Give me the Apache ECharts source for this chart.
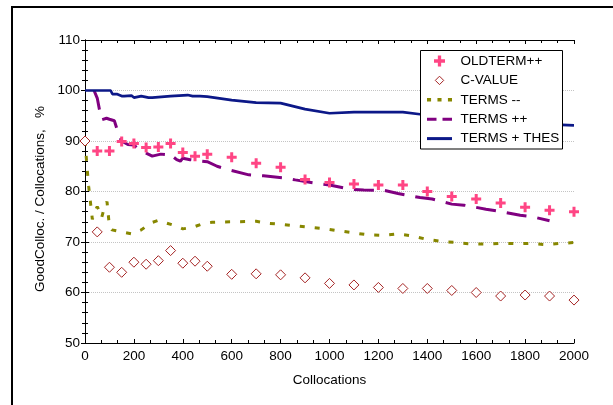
<!DOCTYPE html>
<html><head><meta charset="utf-8">
<script src="https://cdn.jsdelivr.net/npm/echarts@6/dist/echarts.min.js"></script>
<style>html,body{margin:0;padding:0;background:#fff}#c{width:613px;height:405px}</style>
</head><body><div id="c"></div>
<script>
// ---- data ----
const seriesNames = ['OLDTERM++', 'C-VALUE', 'TERMS --', 'TERMS ++', 'TERMS + THES'];

const oldtermX = [50,100,150,200,250,300,350,400,450,500,600,700,800,900,1000,1100,1200,1300,1400,1500,1600,1700,1800,1900,2000];
const oldtermY = [88.0,88.0,89.9,89.5,88.7,88.8,89.5,87.7,87.0,87.4,86.8,85.6,84.8,82.4,81.8,81.5,81.3,81.3,80.0,79.0,78.5,77.7,76.9,76.3,76.0];

const cvalueX = [0,50,100,150,200,250,300,350,400,450,500,600,700,800,900,1000,1100,1200,1300,1400,1500,1600,1700,1800,1900,2000];
const cvalueY = [90.0,72.0,65.0,64.0,66.0,65.6,66.3,68.3,65.8,66.2,65.2,63.6,63.7,63.5,62.9,61.8,61.5,61.0,60.8,60.8,60.4,60.0,59.3,59.5,59.3,58.5];

const termsMinusX = [0,8,15,22,30,40,50,60,68,80,90,100,110,150,190,230,270,300,330,370,400,440,480,520,600,700,750,800,900,1000,1040,1100,1160,1220,1280,1340,1400,1460,1520,1580,1640,1700,1760,1820,1880,1940,2000];
const termsMinusY = [90,85,81,78,74.5,76,77,76,74.8,77,78,73,72.4,72,71.6,72.4,73.8,74.3,73.8,73.2,72.6,72.9,73.6,73.9,74.0,74.1,73.7,73.5,73.0,72.5,72.2,71.8,71.4,71.3,71.6,71.2,70.5,70.1,69.9,69.6,69.6,69.7,69.7,69.7,69.5,69.7,69.9];

const termsPlusX = [37,50,60,68,75,88,100,120,140,150,175,200,220,250,275,310,330,350,360,375,390,400,430,460,500,540,580,670,730,810,860,950,1000,1090,1140,1225,1280,1370,1420,1500,1550,1640,1690,1780,1830,1900];
const termsPlusY = [100,98.5,96,94.2,93.9,94.5,94.3,94,91,90,89.3,89.2,88.3,87.6,87,87.4,87.3,86.6,86.9,86.3,86.0,86.6,86.3,86.1,85.9,85.0,84.4,83.3,83.1,82.7,82.3,81.6,81.3,80.4,80.3,80.2,79.6,78.8,78.5,77.5,77.3,76.5,76.1,75.3,75.0,74.2];

const thesX = [0,105,112,130,150,160,190,200,210,230,260,275,300,350,420,440,470,500,600,700,800,900,1000,1100,1300,1370,1450,1550,1650,1750,1850,1950,2000];
const thesY = [100,100,99.3,99.3,98.9,98.9,99.0,98.6,98.7,98.9,98.6,98.6,98.7,98.9,99.1,98.9,98.9,98.8,98.1,97.6,97.5,96.3,95.5,95.7,95.7,95.3,94.8,94.3,93.9,93.6,93.4,93.2,93.1];

const xMin = 0, xMax = 2000, xStep = 200;
const yMin = 50, yMax = 110, yStep = 10;
const xTitle = 'Collocations';
const yTitle = 'GoodColloc. / Collocations,   %';

// ---- build ----
const zip = (xs, ys) => xs.map((x, i) => [x, ys[i]]);
const FONT = 'Liberation Sans, Arial, sans-serif';
const PLUS = 'path://M3.5,0H6.5V3.5H10V6.5H6.5V10H3.5V6.5H0V3.5H3.5Z';
const ICON_DIAMOND = 'path://M0,0M11,11M5.5,1.3L9.7,5.5L5.5,9.7L1.3,5.5Z';
const ICON_DOT = 'path://M0,0H3.5V3H0Z M9,0H12.5V3H9Z M18,0H21.5V3H18Z';
const ICON_DASH = 'path://M0,0H9.5V3H0Z M15.5,0H25V3H15.5Z';
const ICON_SOLID = 'path://M0,0H25V3H0Z';

const chart = echarts.init(document.getElementById('c'), null, {renderer: 'canvas'});

const axisCommon = {
  axisLine: {show: true, lineStyle: {color: '#000', width: 1}},
  axisTick: {show: true, inside: true, length: 4, lineStyle: {color: '#000'}},
  minorTick: {show: true, length: 3, lineStyle: {color: '#000'}}
};
const plain = v => String(v);

const C_DOT = '#878700', C_DASH = '#800080', C_SOLID = '#0c1888', C_DIA = '#a52424', C_PLUS = '#ff4584';

chart.setOption({
  animation: false,
  backgroundColor: '#fff',
  grid: {left: 85, top: 40, width: 489, height: 303, outerBoundsMode: 'none'},
  graphic: [
    {type: 'rect', z: 0, shape: {x: 12, y: 7, width: 700, height: 500},
     style: {fill: 'none', stroke: '#000', lineWidth: 2}},
    {type: 'rect', z: 100, shape: {x: 420.5, y: 50.5, width: 142, height: 98.5},
     style: {fill: '#fff', stroke: '#000', lineWidth: 1}},
    {type: 'text', z: 100, x: 40, y: 199, rotation: Math.PI / 2,
     style: {text: yTitle, fontFamily: FONT, fontSize: 13.5, fill: '#000', align: 'center', verticalAlign: 'middle'}}
  ],
  legend: {
    orient: 'vertical', left: 427, top: 54, padding: 0, z: 120,
    itemWidth: 25, itemHeight: 11, itemGap: 5.4,
    textStyle: {fontFamily: FONT, fontSize: 13.5, color: '#000', lineHeight: 14, padding: [0, 0, 0, 3.5]},
    data: [
      {name: seriesNames[0]},
      {name: seriesNames[1], icon: ICON_DIAMOND, itemStyle: {borderWidth: 1}},
      {name: seriesNames[2], icon: ICON_DOT, itemStyle: {color: C_DOT, borderWidth: 0}},
      {name: seriesNames[3], icon: ICON_DASH, itemStyle: {color: C_DASH, borderWidth: 0}},
      {name: seriesNames[4], icon: ICON_SOLID, itemStyle: {color: C_SOLID, borderWidth: 0}}
    ]
  },
  xAxis: [
    Object.assign({type: 'value', min: xMin, max: xMax, interval: xStep,
      name: xTitle, nameLocation: 'middle', nameGap: 30,
      nameTextStyle: {fontFamily: FONT, fontSize: 13.5, color: '#000'},
      axisLabel: {fontFamily: FONT, fontSize: 13.5, color: '#000', margin: 6, formatter: plain},
      splitLine: {show: false}}, axisCommon, {minorTick: Object.assign({}, axisCommon.minorTick, {splitNumber: 3})}),
    Object.assign({type: 'value', position: 'top', min: xMin, max: xMax, interval: xStep,
      axisLabel: {show: false}, splitLine: {show: false}}, axisCommon, {minorTick: Object.assign({}, axisCommon.minorTick, {splitNumber: 3})})
  ],
  yAxis: [
    Object.assign({type: 'value', min: yMin, max: yMax, interval: yStep,
      axisLabel: {fontFamily: FONT, fontSize: 13.5, color: '#000', margin: 5, formatter: plain},
      splitLine: {show: true, lineStyle: {color: '#c4c4c4', type: [1, 1], width: 1}}}, axisCommon, {minorTick: Object.assign({}, axisCommon.minorTick, {splitNumber: 5})}),
    Object.assign({type: 'value', position: 'right', min: yMin, max: yMax, interval: yStep,
      axisLabel: {show: false}, splitLine: {show: false}}, axisCommon, {minorTick: Object.assign({}, axisCommon.minorTick, {splitNumber: 5})})
  ],
  series: [
    {name: seriesNames[2], type: 'line', symbol: 'none', z: 2, data: zip(termsMinusX, termsMinusY),
     lineStyle: {color: C_DOT, width: 3, type: [5, 10], cap: 'butt'}, itemStyle: {color: C_DOT}},
    {name: seriesNames[3], type: 'line', symbol: 'none', z: 2, data: zip(termsPlusX, termsPlusY),
     lineStyle: {color: C_DASH, width: 3, type: [20, 11], cap: 'butt'}, itemStyle: {color: C_DASH}},
    {name: seriesNames[4], type: 'line', symbol: 'none', z: 2, data: zip(thesX, thesY),
     lineStyle: {color: C_SOLID, width: 2.7, type: 'solid'}, itemStyle: {color: C_SOLID}},
    {name: seriesNames[1], type: 'scatter', symbol: 'diamond', symbolSize: 10, z: 3, data: zip(cvalueX, cvalueY),
     itemStyle: {color: '#ffffff', borderColor: C_DIA, borderWidth: 1, opacity: 1}},
    {name: seriesNames[0], type: 'scatter', symbol: PLUS, symbolSize: 10, z: 4, data: zip(oldtermX, oldtermY),
     itemStyle: {color: C_PLUS, opacity: 1}}
  ]
});
</script></body></html>
